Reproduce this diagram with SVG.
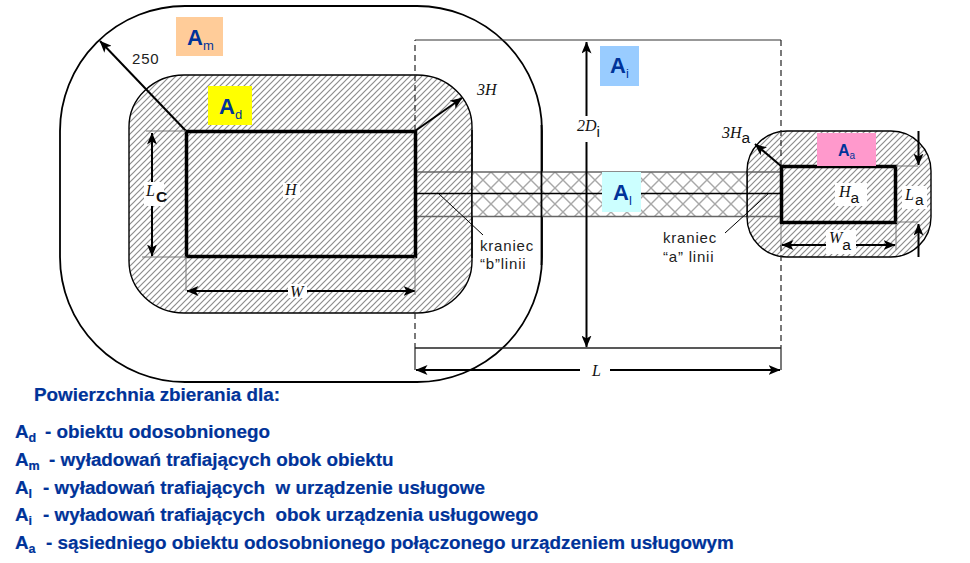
<svg xmlns="http://www.w3.org/2000/svg" width="970" height="563" viewBox="0 0 970 563">
<style>
text{font-family:"Liberation Sans",Arial,sans-serif}
.b{fill:#003399;font-weight:bold}
.t{font-size:18.85px;stroke:#003399;stroke-width:.2;white-space:pre}
.s{font-size:12.5px}
.m{font-family:"Liberation Serif","Times New Roman",serif;font-style:italic;fill:#111;font-size:16px}
.u{font-family:"Liberation Sans",Arial,sans-serif;font-style:normal;font-size:15.500px}
.n{fill:#222;font-size:15px;letter-spacing:.8px}
.ln{fill:none;stroke:#000}
.th{fill:none;stroke:#000;stroke-width:2}
.g{fill:none;stroke:#777;stroke-width:1}
.d{fill:none;stroke:#222;stroke-width:1.2;stroke-dasharray:6 4}
.bld{fill:url(#h);stroke:#000;stroke-width:3.5}
</style>
<defs>
<pattern id="h" width="6" height="6" patternUnits="userSpaceOnUse">
<rect width="6" height="6" fill="#fff"/>
<path d="M-1,7 L7,-1 M-1,1 L1,-1 M5,7 L7,5" stroke="#8c8c8c" stroke-width="1.2"/>
</pattern>
<pattern id="x" width="16" height="16" patternUnits="userSpaceOnUse" x="475" y="172">
<rect width="16" height="16" fill="#fff"/>
<path d="M0,0 L16,16 M16,0 L0,16" stroke="#a8a8a8" stroke-width="1.400"/>
</pattern>
<marker id="a" viewBox="0 0 12 10" refX="11.5" refY="5" markerWidth="12" markerHeight="10" markerUnits="userSpaceOnUse" orient="auto-start-reverse">
<path d="M0,0 L12,5 L0,10 L3,5Z" fill="#000"/>
</marker>
</defs>

<g id="am-zone"><rect class="ln" x="60" y="6" width="482" height="376" rx="125" ry="125" stroke-width="1.8"/></g>
<g id="ad-zone"><rect x="129" y="75" width="343" height="238" rx="55" ry="52" fill="url(#h)" stroke="#000" stroke-width="1.4"/></g>
<g id="aa-zone"><rect x="747" y="131" width="184" height="126" rx="40" ry="40" fill="url(#h)" stroke="#000" stroke-width="1.4"/></g>
<g id="line-strip">
<rect x="472" y="172" width="275" height="44.500" fill="url(#x)"/>
<path d="M415,172H781M415,216.500H781" fill="none" stroke="#666" stroke-width="1.5"/>
<path d="M415,193.500H781" fill="none" stroke="#000" stroke-width="1.3"/>
<path d="M472,130V258" fill="none" stroke="#000" stroke-width="1.400"/>
<path d="M747,171V217" fill="none" stroke="#000" stroke-width="1.4"/>
<path d="M541.500,125V265" fill="none" stroke="#000" stroke-width="1.8"/>
</g>
<g id="ad-building"><rect class="bld" x="186.500" y="131.500" width="229" height="125"/></g>
<g id="aa-building"><rect class="bld" x="781.500" y="166.500" width="114" height="56"/></g>

<g id="connectors">
<path class="d" d="M415,131V40"/>
<path d="M415,40H781" fill="none" stroke="#333" stroke-width="1.200"/>
<path class="d" d="M781,40V166"/>
<path class="d" d="M781,245V348"/>
<path class="d" d="M415,313V348"/>
<path d="M415,348H781" fill="none" stroke="#222" stroke-width="1.300"/>
<path d="M415,348V370M781,348V370" fill="none" stroke="#222" stroke-width="1.200"/>
<path class="th" d="M186,131L100,41" marker-end="url(#a)"/>
<path class="th" d="M415,131L462,98" marker-end="url(#a)"/>
<path class="th" d="M781,166L755,144" marker-end="url(#a)"/>
<path class="th" d="M586.500,42V116" marker-start="url(#a)"/>
<path class="th" d="M586.500,142V347" marker-end="url(#a)"/>
<path class="th" d="M416,370H580" marker-start="url(#a)"/>
<path class="th" d="M610,370H780" marker-end="url(#a)"/>
<path class="th" d="M152,133V182" marker-start="url(#a)"/>
<path class="th" d="M152,206V256" marker-end="url(#a)"/>
<path class="th" d="M187,291H288" marker-start="url(#a)"/>
<path class="th" d="M307,291H415" marker-end="url(#a)"/>
<path class="th" d="M782,245H826" marker-start="url(#a)"/>
<path class="th" d="M856,245H895" marker-end="url(#a)"/>
<path class="th" d="M918.500,131V165" marker-end="url(#a)"/>
<path class="th" d="M918.500,257V224" marker-end="url(#a)"/>
<path class="g" d="M146,131H186M142,257H186M186,257V291M415,257V295M896,166H918M896,222H918M781,224V245M896,224V250"/>
<path class="ln" stroke-width="1" d="M438,193L483,235"/>
<path class="ln" stroke-width="1" d="M769,193L725,233"/>
</g>

<g id="label-am"><rect x="176" y="17" width="47" height="39" fill="#ffcc99"/><text class="b" x="187" y="45" font-size="22">A<tspan font-size="13" dy="5" font-weight="normal">m</tspan></text></g>
<g id="label-ad"><rect x="208" y="86" width="44" height="39" fill="#ffff00"/><text class="b" x="219" y="114" font-size="22">A<tspan font-size="13" dy="5" font-weight="normal">d</tspan></text></g>
<g id="label-ai"><rect x="600" y="46" width="39" height="40" fill="#99ccff"/><text class="b" x="610" y="73" font-size="22">A<tspan font-size="13" dy="5" font-weight="normal">i</tspan></text></g>
<g id="label-al"><rect x="602" y="172" width="39" height="40" fill="#ccffff"/><text class="b" x="613" y="200" font-size="22">A<tspan font-size="13" dy="5" font-weight="normal">l</tspan></text></g>
<g id="label-aa"><rect x="817" y="133" width="59" height="33" fill="#ff99cc"/><text class="b" x="838" y="156" font-size="16">A<tspan font-size="10" dy="3" font-weight="normal">a</tspan></text></g>

<g id="dims">
<text class="n" x="132" y="64">250</text>
<text class="m" x="477" y="95">3H</text>
<rect x="144" y="182" width="20" height="24" fill="#fff"/>
<text class="m" x="146" y="196">L<tspan class="u" dy="6" font-weight="bold" dx="1">C</tspan></text>
<rect x="283" y="183" width="17" height="15" fill="#fff"/>
<text class="m" x="285" y="195">H</text>
<rect x="288" y="284" width="19" height="14" fill="#fff"/>
<text class="m" x="290" y="297">W</text>
<text class="m" x="577" y="131">2D<tspan class="u" dy="6">i</tspan></text>
<text class="m" x="592" y="376">L</text>
<text class="m" x="722" y="138">3H<tspan class="u" dy="5">a</tspan></text>
<rect x="835" y="183" width="32" height="23" fill="#fff"/>
<text class="m" x="839" y="197" font-size="17">H<tspan class="u" dy="6">a</tspan></text>
<rect x="902" y="186" width="25" height="23" fill="#fff"/>
<text class="m" x="905" y="200" font-size="17">L<tspan class="u" dy="5" dx="1">a</tspan></text>
<rect x="826" y="230" width="30" height="24" fill="#fff"/>
<text class="m" x="829" y="243" font-size="17">W<tspan class="u" dy="7">a</tspan></text>
<text class="n" x="480" y="251">kraniec</text>
<text class="n" x="480" y="269">“b”linii</text>
<text class="n" x="663" y="243">kraniec</text>
<text class="n" x="663" y="262">“a” linii</text>
</g>

<g id="legend">
<text class="b t" x="34" y="401">Powierzchnia zbierania dla:</text>
<text class="b t" x="15" y="438">A<tspan class="s" dy="4">d</tspan><tspan dy="-4" x="45">- obiektu odosobnionego</tspan></text>
<text class="b t" x="15" y="466">A<tspan class="s" dy="4">m</tspan><tspan dy="-4" x="49">- wyładowań trafiających obok obiektu</tspan></text>
<text class="b t" x="15" y="494">A<tspan class="s" dy="4">l</tspan><tspan dy="-4" x="43">- wyładowań trafiających  w urządzenie usługowe</tspan></text>
<text class="b t" x="15" y="521">A<tspan class="s" dy="4">i</tspan><tspan dy="-4" x="43">- wyładowań trafiających  obok urządzenia usługowego</tspan></text>
<text class="b t" x="15" y="549">A<tspan class="s" dy="4">a</tspan><tspan dy="-4" x="46">- sąsiedniego obiektu odosobnionego połączonego urządzeniem usługowym</tspan></text>
</g>
</svg>
